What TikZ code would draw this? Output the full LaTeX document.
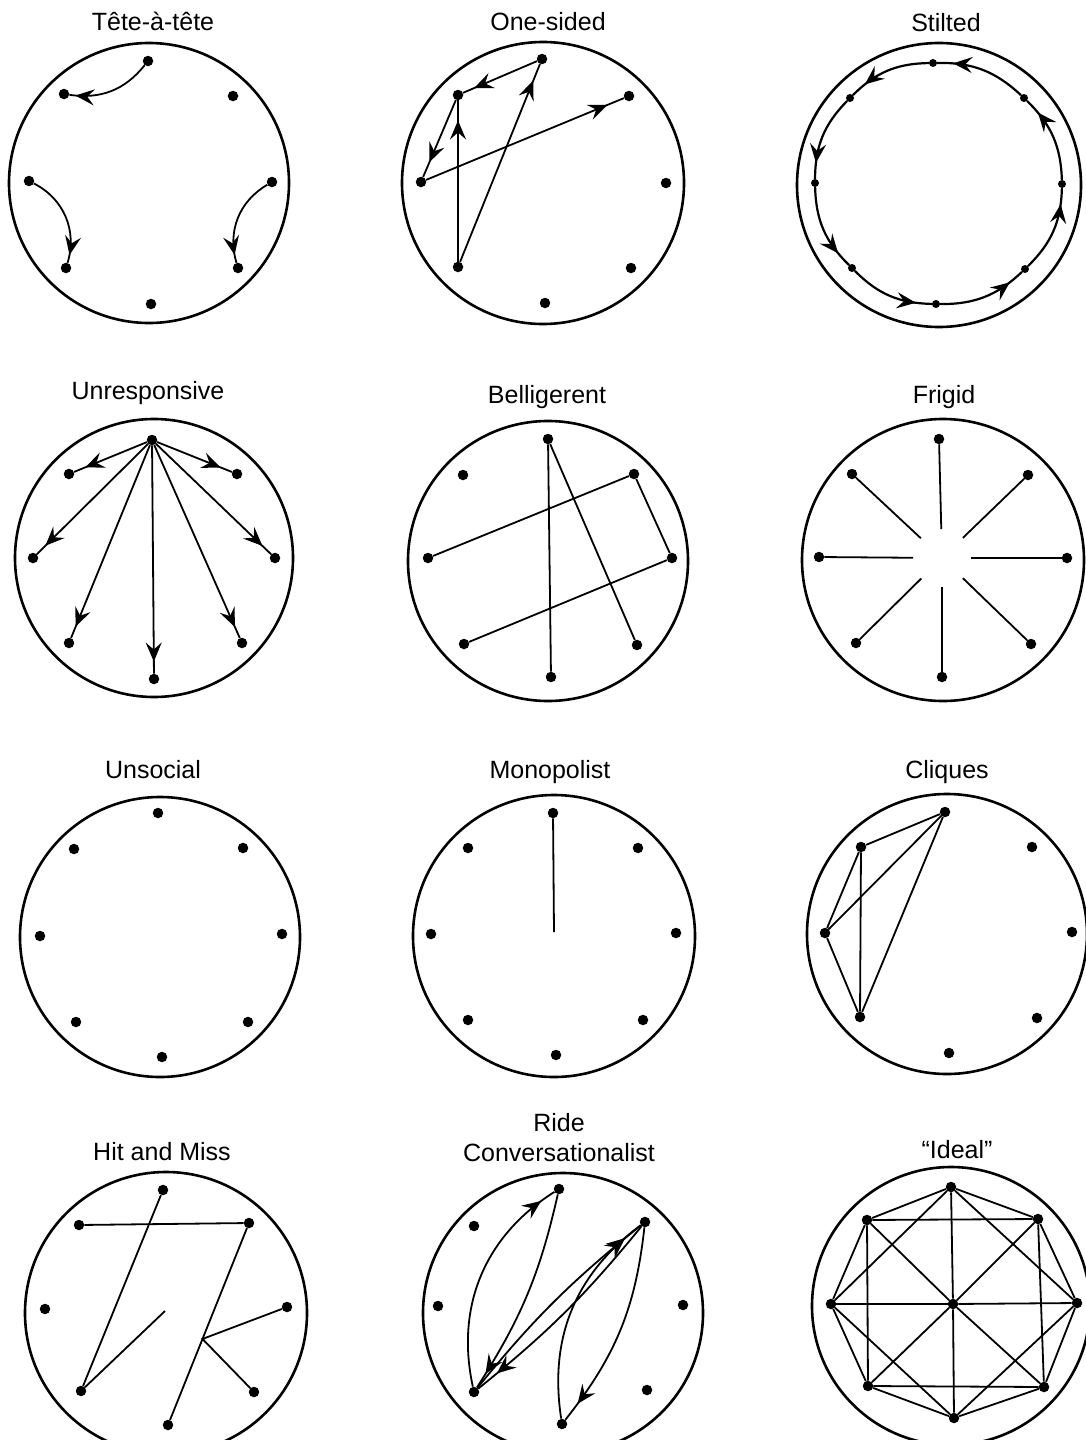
\documentclass[tikz,border=0pt]{standalone}
\usepackage{fontspec}
\setmainfont{Liberation Sans}
\usetikzlibrary{arrows.meta,decorations.markings,calc}

\begin{document}
\begin{tikzpicture}[x=1pt,y=-1pt,
  ring/.style={line width=2.6pt},
  dot/.style={circle,fill,inner sep=0pt,minimum size=10.5pt},
  sdot/.style={dot,minimum size=8pt},
  link/.style={line width=1.8pt},
  arr/.style={link,postaction={decorate},decoration={markings,mark=at position #1 with {\arrow{Stealth[length=19pt,width=16pt,inset=7pt]}}}},
  arr/.default=-12pt,
  title/.style={font=\fontsize{25}{30}\selectfont,align=center}]
\useasboundingbox (0,0) rectangle (1086,1440);

% row 1
\node[title] (tete) at (153,21) {Tête-à-tête};
\draw[ring] (149,183) circle[radius=140];
\foreach \n/\x/\y in {1/148/61,2/64/94,3/233/96,4/29/181,5/272/182,6/66/268,7/238/268,8/151/304}
  \node[dot] (t\n) at (\x,\y) {};
\draw[arr=-6pt] (t1) to[bend left=30] (t2);
\draw[arr=-8pt] (t4) to[bend left=40] (t6);
\draw[arr=-8pt] (t5) to[bend right=38] (t7);

\node[title] (onesided) at (548,22) {One-sided};
\draw[ring] (543,183) circle[radius=141];
\foreach \n/\x/\y in {1/542/59,2/458/95,3/629/96,4/421/182,5/666/183,6/458/267,7/631/268,8/545/303}
  \node[dot] (o\n) at (\x,\y) {};
\draw[arr=-20pt] (o6) -- (o2);
\draw[arr=-18pt] (o6) -- (o1);
\draw[arr=-12pt] (o1) -- (o2);
\draw[arr=-16pt] (o2) -- (o4);
\draw[arr=-18pt] (o4) -- (o3);

\node[title] (stilted) at (946,23) {Stilted};
\draw[ring] (939,185) circle[radius=142];
\foreach \n/\x/\y in {1/933/63,2/850/98,3/815/183,4/852/268,5/936/304,6/1025/269,7/1062/184,8/1024/98}
  \node[sdot] (s\n) at (\x,\y) {};
\foreach \a/\b in {8/1,1/2,2/3,3/4,4/5,5/6,6/7,7/8}
  \draw[arr=-16pt,line width=2.2pt] (s\a) to[bend right=22] (s\b);

% row 2
\node[title] (unresp) at (148,393) {Unresponsive};
\draw[ring] (154,558) circle[radius=139];
\foreach \n/\x/\y in {1/152/440,2/69/474,3/237/474,4/33/558,5/275/558,6/69/643,7/242/643,8/154/679}
  \node[dot] (u\n) at (\x,\y) {};
\foreach \k in {2,...,8}
  \draw[arr] (u1) -- (u\k);

\node[title] (bellig) at (547,397) {Belligerent};
\draw[ring] (548,561) circle[radius=140];
\foreach \n/\x/\y in {1/548/439,2/463/475,3/634/474,4/428/558,5/672/558,6/464/644,7/637/645,8/551/677}
  \node[dot] (b\n) at (\x,\y) {};
\draw[link] (b1) -- (b8);
\draw[link] (b1) -- (b7);
\draw[link] (b4) -- (b3) -- (b5) -- (b6);

\node[title] (frigid) at (944,397) {Frigid};
\draw[ring] (943,560) circle[radius=141];
\coordinate (fc) at (942,558);
\foreach \n/\x/\y in {1/939/439,2/852/474,3/1028/475,4/819/557,5/1067/558,6/856/643,7/1031/644,8/942/677}
  \node[dot] (f\n) at (\x,\y) {};
\foreach \k in {1,...,8}
  \draw[link,shorten >=29pt] (f\k) -- (fc);

% row 3
\node[title] (unsoc) at (153,770) {Unsocial};
\draw[ring] (160,937) circle[radius=140];
\foreach \n/\x/\y in {1/158/813,2/74/849,3/243/848,4/40/936,5/282/934,6/76/1022,7/248/1022,8/162/1057}
  \node[dot] (n\n) at (\x,\y) {};

\node[title] (monop) at (550,772) {Monopolist};
\draw[ring] (554,936) circle[radius=141];
\coordinate (mc) at (554,932);
\foreach \n/\x/\y in {1/553/813,2/468/848,3/638/848,4/431/934,5/676/933,6/468/1020,7/643/1020,8/556/1055}
  \node[dot] (m\n) at (\x,\y) {};
\draw[link] (m1) -- (mc);

\node[title] (cliques) at (947,772) {Cliques};
\draw[ring] (947,934) circle[radius=140];
\foreach \n/\x/\y in {1/945/812,2/861/847,3/1032/847,4/825/933,5/1072/932,6/860/1017,7/1037/1018,8/949/1053}
  \node[dot] (c\n) at (\x,\y) {};
\draw[link] (c1) -- (c2) -- (c4) -- (c6) -- (c1) -- (c4);
\draw[link] (c2) -- (c6);

% row 4
\node[title] (hitmiss) at (162,1152) {Hit and Miss};
\draw[ring] (166,1313) circle[radius=141];
\foreach \n/\x/\y in {1/163/1190,2/79/1225,3/249/1223,4/45/1309,5/287/1307,6/81/1391,7/254/1392,8/168/1425}
  \node[dot] (h\n) at (\x,\y) {};
\coordinate (hm) at (165,1311);
\coordinate (hj) at ($(h3)!0.574!(h8)$);
\draw[link] (h1) -- (h6) -- (hm);
\draw[link] (h2) -- (h3) -- (h8);
\draw[link] (h5) -- (hj) -- (h7);

\node[title] (ride) at (559,1138) {Ride\\Conversationalist};
\draw[ring] (563,1313) circle[radius=140];
\foreach \n/\x/\y in {1/559/1189,2/474/1226,3/645/1222,4/438/1306,5/683/1305,6/474/1392,7/647/1390,8/562/1424}
  \node[dot] (r\n) at (\x,\y) {};
\draw[arr=-16pt] (r6) to[bend left=35] (r1);
\draw[arr=-16pt] (r1) to[bend left=10] (r6);
\draw[arr=-20pt] (r6) to[bend left=6] (r3);
\draw[arr=-24pt] (r3) to[bend left=6] (r6);
\draw[arr=-22pt] (r8) to[bend left=31] (r3);
\draw[arr=-20pt] (r3) to[bend left=16] (r8);

\node[title] (ideal) at (957,1150) {“Ideal”};
\draw[ring] (951,1306) circle[radius=139];
\node[dot] (i0) at (953,1304) {};
\foreach \n/\x/\y in {1/951/1187,2/867/1220,3/1038/1219,4/831/1304,5/1077/1303,6/868/1386,7/1044/1387,8/954/1418}
  \node[dot] (i\n) at (\x,\y) {};
\draw[link] (i1) -- (i3) -- (i5) -- (i7) -- (i8) -- (i6) -- (i4) -- (i2) -- (i1);
\draw[link] (i2) -- (i3) -- (i7) -- (i6) -- (i2);
\draw[link] (i1) -- (i5) -- (i8) -- (i4) -- (i1);
\foreach \k in {1,...,8}
  \draw[link] (i0) -- (i\k);
\end{tikzpicture}
\end{document}
